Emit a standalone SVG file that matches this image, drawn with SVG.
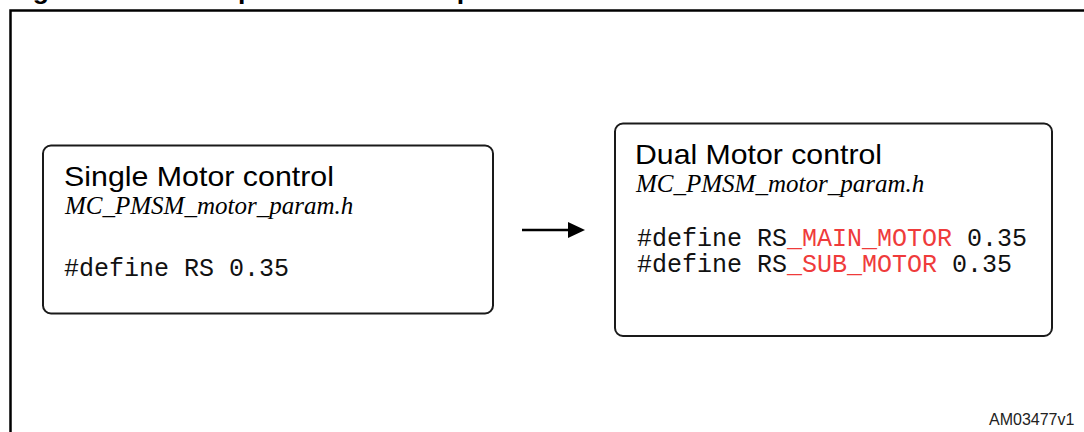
<svg xmlns="http://www.w3.org/2000/svg" width="1084" height="432" viewBox="0 0 1084 432">
  <style>
    .box { fill: #ffffff; stroke: #1a1a1a; stroke-width: 2; }
    .head { font-family: "Liberation Sans", Arial, sans-serif; font-size: 28px; fill: #000; }
    .file { font-family: "Liberation Serif", "Times New Roman", serif; font-style: italic; font-size: 25px; fill: #000; }
    .code { font-family: "Liberation Mono", "Courier New", monospace; font-size: 25px; fill: #111; }
    .red { fill: #ef3b3b; }
    .title { font-family: "Liberation Sans", Arial, sans-serif; font-weight: bold; font-size: 26.6px; fill: #000; }
    .id { font-family: "Liberation Sans", Arial, sans-serif; font-size: 16px; fill: #222; }
  </style>
  <rect x="0" y="0" width="1084" height="432" fill="#ffffff"/>
  <text class="title" x="9" y="-1.5">Figure 130. Motor parameters example</text>
  <g id="frame" fill="none" stroke="#000" stroke-width="2.5">
    <path d="M10.5 432 V10.5 H1084"/>
  </g>
  <g id="single">
    <rect class="box" x="43" y="145.5" width="450" height="168" rx="8" ry="8"/>
    <text class="head" x="64" y="186" textLength="270" lengthAdjust="spacingAndGlyphs">Single Motor control</text>
    <text class="file" x="65" y="214">MC_PMSM_motor_param.h</text>
    <text class="code" x="64" y="276">#define RS 0.35</text>
  </g>
  <g id="dual">
    <rect class="box" x="615" y="123.5" width="437" height="212.5" rx="8" ry="8"/>
    <text class="head" x="635" y="164" textLength="247" lengthAdjust="spacingAndGlyphs">Dual Motor control</text>
    <text class="file" x="636" y="192">MC_PMSM_motor_param.h</text>
    <text class="code" x="637" y="246">#define RS<tspan class="red">_MAIN_MOTOR</tspan> 0.35</text>
    <text class="code" x="637" y="272">#define RS<tspan class="red">_SUB_MOTOR</tspan> 0.35</text>
  </g>
  <g id="connectors">
    <line x1="522" y1="230" x2="569" y2="230" stroke="#000" stroke-width="2.7"/>
    <polygon points="568,222 585,230 568,238" fill="#000"/>
  </g>
  <text class="id" x="989" y="425">AM03477v1</text>
</svg>
